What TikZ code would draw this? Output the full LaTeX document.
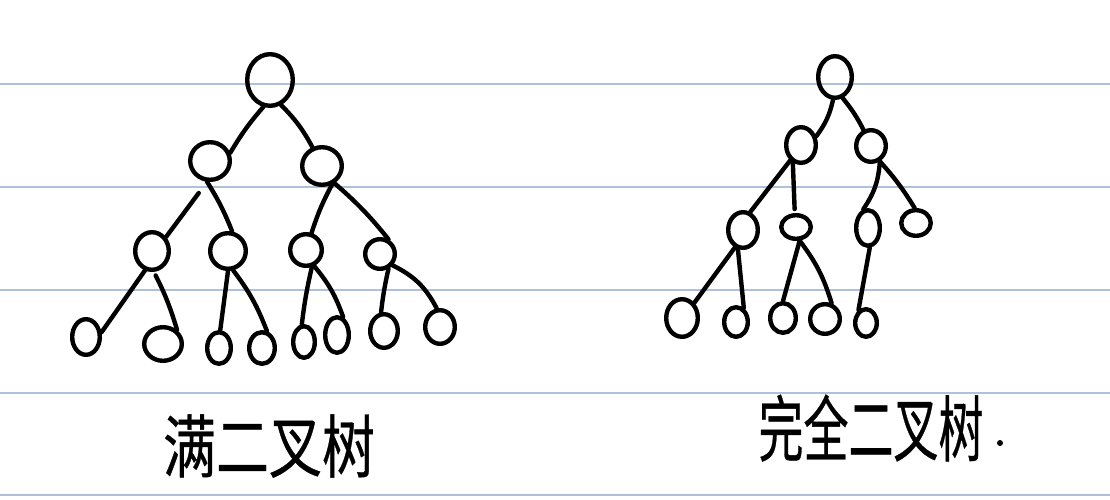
\documentclass[tikz,border=0pt]{standalone}
\usepackage{fontspec}
\newfontfamily\cjk[FakeBold=0.6]{Noto Sans CJK SC}
\usetikzlibrary{shapes.geometric}
\definecolor{rule}{HTML}{AFC0DA}
\tikzset{
  ink/.style={line width=4.4pt, black, line cap=round, line join=round},
  nd/.style={ellipse, draw, ink, inner sep=0pt},
  ruleline/.style={draw=rule, line width=2pt},
  lbl/.style={inner sep=0pt, font=\cjk}
}
\newcommand{\nd}[5]{\node[nd, minimum width={2*#4-4.4}, minimum height={2*#5-4.4}] (#1) at (#2,-#3) {};}
\begin{document}
\begin{tikzpicture}[x=1pt,y=1pt]
\useasboundingbox (0,0) rectangle (1110,-500);
\fill[white] (0,0) rectangle (1110,-500);
% ruled lines
\coordinate (l1a) at (0,-84.5); \coordinate (l1b) at (1110,-84.5);
\coordinate (l2a) at (0,-187); \coordinate (l2b) at (1110,-187);
\coordinate (l3a) at (0,-290); \coordinate (l3b) at (1110,-290);
\coordinate (l4a) at (0,-392.5); \coordinate (l4b) at (1110,-392.5);
\coordinate (l5a) at (0,-495); \coordinate (l5b) at (1110,-495);
\draw[ruleline] (l1a) -- (l1b);
\draw[ruleline] (l2a) -- (l2b);
\draw[ruleline] (l3a) -- (l3b);
\draw[ruleline] (l4a) -- (l4b);
\draw[ruleline] (l5a) -- (l5b);

% ===== full binary tree =====
\nd{R}{270}{80}{25}{28}
\nd{La}{210}{161}{22}{21}
\nd{Lb}{322}{166}{22}{21}
\nd{Ma}{152}{251}{19}{21}
\nd{Mb}{228}{251}{20}{20}
\nd{Mc}{306}{250}{18}{18}
\nd{Md}{380}{254}{17}{17}
\nd{Na}{86}{337}{16}{20}
\nd{Nb}{163}{344}{21}{19}
\nd{Nc}{219}{348}{14}{18}
\nd{Nd}{262}{348}{15}{18}
\nd{Ne}{304}{342}{13}{18}
\nd{Nf}{337}{335}{14}{20}
\nd{Ng}{384}{331}{16}{19}
\nd{Nh}{440}{327}{17}{19}

\draw[ink] (R.256) to[bend right=5] (La.22);
\draw[ink] (R.294) to[bend left=8] (Lb.117);
\draw[ink, shorten <=14pt] (La.262) -- (Ma.45);
\draw[ink] (La.262) to[bend left=5] (Mb.78);
\draw[ink] (Lb.298) to[bend right=5] (Mc.72);
\draw[ink] (Lb.306) to[bend left=5] (Md.60);
\draw[ink] (Ma.250) -- (Na.17);
\draw[ink, shorten <=4pt] (Ma.275) to[bend left=5] (Nb.45);
\draw[ink] (Mb.270) -- (Nc.86);
\draw[ink] (Mb.285) to[bend left=8] (Nd.74);
\draw[ink] (Mc.289) to[bend right=3] (Ne.97);
\draw[ink] (Mc.297) to[bend left=10] (Nf.71);
\draw[ink] (Md.300) to[bend right=3] (Ng.99);
\draw[ink] (Md.318) to[bend left=18] (Nh.100);

% ===== complete binary tree =====
\nd{S}{835}{77}{19}{23}
\nd{A}{801}{145}{17}{20}
\nd{B}{871}{146}{17}{18}
\nd{Aa}{743}{230}{17}{20}
\nd{Ab}{796}{227}{17}{14}
\nd{Ba}{868}{228}{14}{20}
\nd{Bb}{916}{223}{17}{15}
\nd{Ca}{682}{318}{18}{21}
\nd{Cb}{736}{322}{14}{17}
\nd{Cc}{783}{318}{15}{17}
\nd{Cd}{825}{319}{17}{17}
\nd{Ce}{866}{323}{13}{16}

\draw[ink] (S.265) to[bend left=12] (A.30);
\draw[ink] (S.290) to[bend left=6] (B.115);
\draw[ink] (A.235) -- (Aa.68);
\draw[ink, shorten >=4pt] (A.245) -- (Ab.95);
\draw[ink] (B.300) to[bend left=15] (Ba.104);
\draw[ink] (B.300) to[bend left=5] (Bb.95);
\draw[ink] (Aa.245) -- (Ca.51);
\draw[ink] (Aa.255) -- (Cb.61);
\draw[ink] (Ab.285) -- (Cc.90);
\draw[ink] (Ab.285) to[bend left=10] (Cd.67);
\draw[ink] (Ba.275) -- (Ce.120);

% labels
\node[lbl] (t1) at (269,-446) {\scalebox{1}[1.3]{\fontsize{53}{60}\selectfont 满二叉树}};
\node[lbl] (t2) at (871,-428) {\scalebox{1}[1.6]{\fontsize{45}{50}\selectfont 完全二叉树}};
\node[circle, fill=black, inner sep=0pt, minimum size=6pt] (dot) at (1000,-443) {};
\end{tikzpicture}
\end{document}
